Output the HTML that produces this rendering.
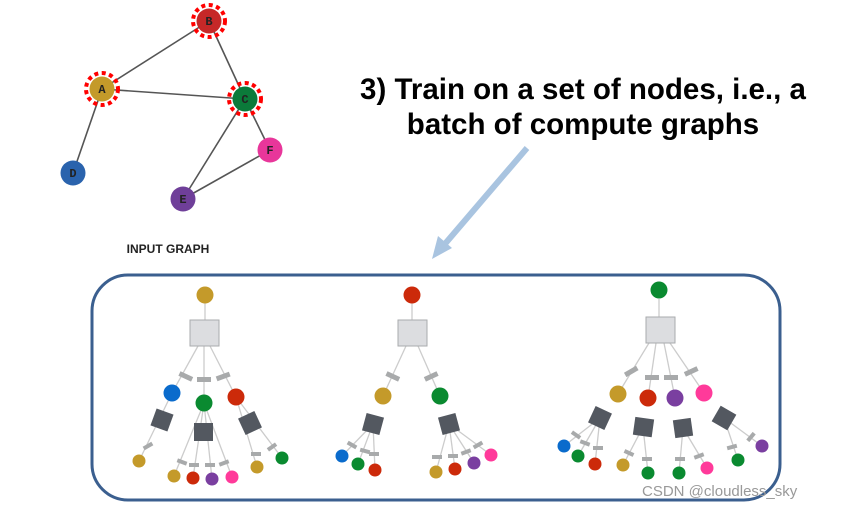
<!DOCTYPE html>
<html><head><meta charset="utf-8"><style>
html,body{margin:0;padding:0;background:#fff;}
svg{display:block;}
</style></head><body>
<svg width="859" height="507" viewBox="0 0 859 507" xmlns="http://www.w3.org/2000/svg">
<defs>
<style>
.e{stroke:#555;stroke-width:1.6;}
.t{stroke:#ccc;stroke-width:1.3;}
.g{fill:#a8aaab;}
.d{fill:#535860;}
.sq{fill:#dcdde0;stroke:#a9abae;stroke-width:1;}
.lbl{font-family:"Liberation Mono",monospace;font-weight:bold;font-size:12px;fill:#222;text-anchor:middle;}
</style>
</defs>
<!-- input graph -->
<line class="e" x1="102" y1="89" x2="209" y2="21"/>
<line class="e" x1="102" y1="89" x2="245" y2="99"/>
<line class="e" x1="209" y1="21" x2="245" y2="99"/>
<line class="e" x1="102" y1="89" x2="73" y2="173"/>
<line class="e" x1="245" y1="99" x2="270" y2="150"/>
<line class="e" x1="245" y1="99" x2="183" y2="199"/>
<line class="e" x1="270" y1="150" x2="183" y2="199"/>
<circle cx="209" cy="21" r="16" fill="none" stroke="#f00" stroke-width="4" stroke-dasharray="4 3.5"/>
<circle cx="102" cy="89" r="16" fill="none" stroke="#f00" stroke-width="4" stroke-dasharray="4 3.5"/>
<circle cx="245" cy="99" r="16" fill="none" stroke="#f00" stroke-width="4" stroke-dasharray="4 3.5"/>
<circle cx="209" cy="21" r="12.5" fill="#c62828"/>
<circle cx="102" cy="89" r="12.5" fill="#c49a2a"/>
<circle cx="245" cy="99" r="12.5" fill="#0b7a3a"/>
<circle cx="73" cy="173" r="12.5" fill="#2a63ad"/>
<circle cx="270" cy="150" r="12.5" fill="#e8369a"/>
<circle cx="183" cy="199" r="12.5" fill="#6f3f99"/>
<text class="lbl" x="209" y="25">B</text>
<text class="lbl" x="102" y="93">A</text>
<text class="lbl" x="245" y="103">C</text>
<text class="lbl" x="73" y="177">D</text>
<text class="lbl" x="270" y="154">F</text>
<text class="lbl" x="183" y="203">E</text>
<text x="168" y="253" font-family="Liberation Sans,sans-serif" font-weight="bold" font-size="12" text-anchor="middle" fill="#222">INPUT GRAPH</text>

<!-- title -->
<text x="583" y="99" font-family="Liberation Sans,sans-serif" font-weight="bold" font-size="29.5" text-anchor="middle" fill="#000">3) Train on a set of nodes, i.e., a</text>
<text x="583" y="134" font-family="Liberation Sans,sans-serif" font-weight="bold" font-size="29.5" text-anchor="middle" fill="#000">batch of compute graphs</text>
<line x1="527" y1="148" x2="444" y2="245" stroke="#a9c4e0" stroke-width="6"/>
<polygon points="432,259 438,236 452,248" fill="#a9c4e0"/>

<!-- box -->
<rect x="92" y="275" width="688" height="225" rx="36" fill="none" stroke="#3b5f8f" stroke-width="3"/>

<!-- tree 1 -->
<g>
<line class="t" x1="205" y1="303" x2="205" y2="320"/>
<line class="t" x1="198" y1="346" x2="172" y2="393"/>
<line class="t" x1="204" y1="346" x2="204" y2="403"/>
<line class="t" x1="210" y1="346" x2="236" y2="397"/>
<line class="t" x1="172" y1="393" x2="139" y2="461"/>
<line class="t" x1="204" y1="403" x2="174" y2="476"/>
<line class="t" x1="204" y1="403" x2="193" y2="478"/>
<line class="t" x1="204" y1="403" x2="212" y2="479"/>
<line class="t" x1="204" y1="403" x2="232" y2="477"/>
<line class="t" x1="236" y1="397" x2="257" y2="467"/>
<line class="t" x1="236" y1="397" x2="282" y2="458"/>
<rect class="sq" x="190" y="320" width="29" height="26"/>
<circle cx="205" cy="295" r="8.5" fill="#c49a2a"/>
<rect class="g" x="179" y="374" width="14" height="5" transform="rotate(25 186 376)"/>
<rect class="g" x="197" y="377" width="14" height="5"/>
<rect class="g" x="216" y="374" width="14" height="5" transform="rotate(-20 223 376)"/>
<circle cx="172" cy="393" r="8.5" fill="#0a6bcc"/>
<circle cx="204" cy="403" r="8.5" fill="#0a8a30"/>
<circle cx="236" cy="397" r="8.5" fill="#cc2a0a"/>
<rect class="d" x="153" y="411" width="18" height="18" transform="rotate(20 162 420)"/>
<rect class="d" x="194" y="423" width="19" height="18"/>
<rect class="d" x="241" y="414" width="18" height="18" transform="rotate(-25 250 423)"/>
<rect class="g" x="143" y="444" width="10" height="4" transform="rotate(-30 148 446)"/>
<rect class="g" x="177" y="460" width="10" height="4" transform="rotate(20 182 462)"/>
<rect class="g" x="189" y="463" width="10" height="4"/>
<rect class="g" x="205" y="463" width="10" height="4"/>
<rect class="g" x="219" y="461" width="10" height="4" transform="rotate(-20 224 463)"/>
<rect class="g" x="251" y="452" width="10" height="4"/>
<rect class="g" x="267" y="445" width="10" height="4" transform="rotate(-35 272 447)"/>
<circle cx="139" cy="461" r="6.5" fill="#c49a2a"/>
<circle cx="174" cy="476" r="6.5" fill="#c49a2a"/>
<circle cx="193" cy="478" r="6.5" fill="#cc2a0a"/>
<circle cx="212" cy="479" r="6.5" fill="#7a3fa0"/>
<circle cx="232" cy="477" r="6.5" fill="#ff3a9a"/>
<circle cx="257" cy="467" r="6.5" fill="#c49a2a"/>
<circle cx="282" cy="458" r="6.5" fill="#0a8a30"/>
</g>

<!-- tree 2 -->
<g>
<line class="t" x1="412" y1="303" x2="412" y2="320"/>
<line class="t" x1="406" y1="346" x2="383" y2="396"/>
<line class="t" x1="418" y1="346" x2="440" y2="396"/>
<line class="t" x1="373" y1="424" x2="342" y2="456"/>
<line class="t" x1="373" y1="424" x2="358" y2="464"/>
<line class="t" x1="373" y1="424" x2="375" y2="470"/>
<line class="t" x1="449" y1="424" x2="436" y2="472"/>
<line class="t" x1="449" y1="424" x2="455" y2="469"/>
<line class="t" x1="449" y1="424" x2="474" y2="463"/>
<line class="t" x1="449" y1="424" x2="491" y2="455"/>
<rect class="sq" x="398" y="320" width="29" height="26"/>
<circle cx="412" cy="295" r="8.5" fill="#cc2a0a"/>
<rect class="g" x="386" y="374" width="14" height="5" transform="rotate(25 393 376)"/>
<rect class="g" x="424" y="374" width="14" height="5" transform="rotate(-25 431 376)"/>
<circle cx="383" cy="396" r="8.5" fill="#c49a2a"/>
<circle cx="440" cy="396" r="8.5" fill="#0a8a30"/>
<rect class="d" x="364" y="415" width="18" height="18" transform="rotate(15 373 424)"/>
<rect class="d" x="440" y="415" width="18" height="18" transform="rotate(-15 449 424)"/>
<rect class="g" x="347" y="443" width="10" height="4" transform="rotate(30 352 445)"/>
<rect class="g" x="360" y="449" width="10" height="4" transform="rotate(15 365 451)"/>
<rect class="g" x="369" y="452" width="10" height="4"/>
<rect class="g" x="432" y="455" width="10" height="4"/>
<rect class="g" x="448" y="454" width="10" height="4"/>
<rect class="g" x="461" y="450" width="10" height="4" transform="rotate(-20 466 452)"/>
<rect class="g" x="473" y="443" width="10" height="4" transform="rotate(-30 478 445)"/>
<circle cx="342" cy="456" r="6.5" fill="#0a6bcc"/>
<circle cx="358" cy="464" r="6.5" fill="#0a8a30"/>
<circle cx="375" cy="470" r="6.5" fill="#cc2a0a"/>
<circle cx="436" cy="472" r="6.5" fill="#c49a2a"/>
<circle cx="455" cy="469" r="6.5" fill="#cc2a0a"/>
<circle cx="474" cy="463" r="6.5" fill="#7a3fa0"/>
<circle cx="491" cy="455" r="6.5" fill="#ff3a9a"/>
</g>

<!-- tree 3 -->
<g>
<line class="t" x1="659" y1="299" x2="659" y2="317"/>
<line class="t" x1="649" y1="343" x2="618" y2="394"/>
<line class="t" x1="656" y1="343" x2="648" y2="398"/>
<line class="t" x1="664" y1="343" x2="675" y2="398"/>
<line class="t" x1="670" y1="343" x2="704" y2="393"/>
<line class="t" x1="600" y1="418" x2="564" y2="446"/>
<line class="t" x1="600" y1="418" x2="578" y2="456"/>
<line class="t" x1="600" y1="418" x2="595" y2="464"/>
<line class="t" x1="643" y1="427" x2="623" y2="465"/>
<line class="t" x1="643" y1="427" x2="648" y2="473"/>
<line class="t" x1="683" y1="428" x2="679" y2="473"/>
<line class="t" x1="683" y1="428" x2="707" y2="468"/>
<line class="t" x1="724" y1="418" x2="738" y2="460"/>
<line class="t" x1="724" y1="418" x2="762" y2="446"/>
<rect class="sq" x="646" y="317" width="29" height="26"/>
<circle cx="659" cy="290" r="8.5" fill="#0a8a30"/>
<rect class="g" x="624" y="369" width="14" height="5" transform="rotate(-30 631 371)"/>
<rect class="g" x="645" y="375" width="14" height="5"/>
<rect class="g" x="664" y="375" width="14" height="5"/>
<rect class="g" x="684" y="369" width="14" height="5" transform="rotate(-25 691 371)"/>
<circle cx="618" cy="394" r="8.5" fill="#c49a2a"/>
<circle cx="648" cy="398" r="8.5" fill="#cc2a0a"/>
<circle cx="675" cy="398" r="8.5" fill="#7a3fa0"/>
<circle cx="704" cy="393" r="8.5" fill="#ff3a9a"/>
<rect class="d" x="591" y="409" width="18" height="18" transform="rotate(25 600 418)"/>
<rect class="d" x="634" y="418" width="19" height="18" transform="rotate(8 643 427)"/>
<rect class="d" x="674" y="419" width="18" height="18" transform="rotate(-8 683 428)"/>
<rect class="g" x="715" y="409" width="18" height="18" class="d" transform="rotate(30 724 418)"/>
<rect class="g" x="571" y="433" width="10" height="4" transform="rotate(35 576 435)"/>
<rect class="g" x="580" y="441" width="10" height="4" transform="rotate(20 585 443)"/>
<rect class="g" x="593" y="446" width="10" height="4"/>
<rect class="g" x="624" y="451" width="10" height="4" transform="rotate(25 629 453)"/>
<rect class="g" x="642" y="457" width="10" height="4"/>
<rect class="g" x="675" y="457" width="10" height="4"/>
<rect class="g" x="694" y="454" width="10" height="4" transform="rotate(-20 699 456)"/>
<rect class="g" x="727" y="445" width="10" height="4" transform="rotate(-15 732 447)"/>
<rect class="g" x="746" y="435" width="10" height="4" transform="rotate(-50 751 437)"/>
<circle cx="564" cy="446" r="6.5" fill="#0a6bcc"/>
<circle cx="578" cy="456" r="6.5" fill="#0a8a30"/>
<circle cx="595" cy="464" r="6.5" fill="#cc2a0a"/>
<circle cx="623" cy="465" r="6.5" fill="#c49a2a"/>
<circle cx="648" cy="473" r="6.5" fill="#0a8a30"/>
<circle cx="679" cy="473" r="6.5" fill="#0a8a30"/>
<circle cx="707" cy="468" r="6.5" fill="#ff3a9a"/>
<circle cx="738" cy="460" r="6.5" fill="#0a8a30"/>
<circle cx="762" cy="446" r="6.5" fill="#7a3fa0"/>
</g>
<rect x="715" y="409" width="18" height="18" fill="#535860" transform="rotate(30 724 418)"/>

<text x="642" y="496" font-family="Liberation Sans,sans-serif" font-size="15" fill="#999">CSDN @cloudless_sky</text>
</svg>
</body></html>
